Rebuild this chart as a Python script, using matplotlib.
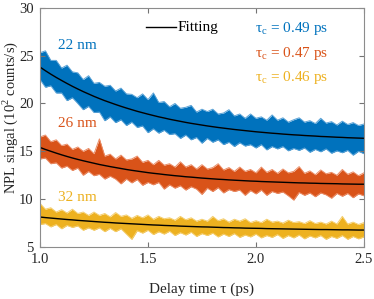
import numpy as np
import matplotlib
matplotlib.use("Agg")
import matplotlib.pyplot as plt

plt.rcParams["font.family"] = ["Liberation Serif", "DejaVu Serif"]
plt.rcParams["mathtext.fontset"] = "custom"
plt.rcParams["mathtext.rm"] = "Liberation Serif"

# delay time grid (ps), step 0.025
tau = np.linspace(1.0, 2.5, 61)

# 22 nm
fit_22 = [23.80, 23.42, 23.06, 22.72, 22.40, 22.09, 21.79, 21.51, 21.24, 20.99, 20.74,
          20.51, 20.29, 20.09, 19.89, 19.70, 19.52, 19.35, 19.18, 19.03, 18.88,
          18.74, 18.60, 18.48, 18.35, 18.24, 18.13, 18.02, 17.92, 17.83, 17.74,
          17.65, 17.57, 17.49, 17.42, 17.35, 17.28, 17.22, 17.16, 17.10, 17.04,
          16.99, 16.94, 16.89, 16.85, 16.80, 16.76, 16.72, 16.69, 16.65, 16.62,
          16.59, 16.55, 16.53, 16.50, 16.47, 16.45, 16.42, 16.40, 16.38, 16.36]
hi_22 = [25.3, 25.5, 24.5, 24.5, 23.7, 24.0, 23.3, 23.2, 22.5, 22.9, 22.1,
         22.2, 21.8, 21.9, 21.3, 21.6, 21.0, 20.95, 20.6, 21.0, 20.4,
         21.1, 20.1, 20.2, 19.65, 20.0, 19.5, 19.6, 19.8, 19.1, 19.4,
         19.15, 19.4, 18.9, 19.0, 19.35, 18.7, 18.9, 18.45, 18.9, 18.45,
         18.6, 18.25, 18.8, 18.25, 18.5, 18.05, 18.3, 18.5, 18.05, 18.2,
         17.9, 18.45, 17.95, 18.1, 17.75, 18.15, 17.8, 18.0, 17.7, 17.85]
lo_22 = [22.5, 21.7, 21.85, 21.1, 21.1, 20.3, 20.6, 20.0, 19.35, 19.7, 19.05,
         19.1, 18.2, 18.6, 18.0, 18.3, 17.7, 18.05, 17.5, 17.65, 16.95,
         17.35, 16.9, 17.2, 16.75, 16.85, 16.35, 16.7, 16.2, 16.45, 15.85,
         16.35, 15.95, 16.2, 15.7, 15.95, 15.5, 15.9, 15.55, 15.7, 15.35,
         15.7, 15.15, 15.5, 15.25, 15.5, 15.05, 15.3, 15.1, 15.35, 14.9,
         15.2, 14.95, 15.25, 14.8, 15.05, 14.85, 15.1, 14.6, 15.0, 14.75]

# 26 nm
fit_26 = [15.40, 15.19, 15.00, 14.81, 14.63, 14.46, 14.30, 14.15, 14.01, 13.88, 13.75,
          13.62, 13.51, 13.40, 13.30, 13.20, 13.10, 13.01, 12.93, 12.85, 12.77,
          12.70, 12.64, 12.57, 12.51, 12.45, 12.40, 12.34, 12.30, 12.25, 12.20,
          12.16, 12.12, 12.08, 12.05, 12.01, 11.98, 11.95, 11.92, 11.89, 11.87,
          11.84, 11.82, 11.80, 11.78, 11.76, 11.74, 11.72, 11.70, 11.69, 11.67,
          11.66, 11.64, 11.63, 11.62, 11.61, 11.59, 11.58, 11.57, 11.56, 11.56]
hi_26 = [16.5, 16.7, 16.0, 16.2, 15.6, 15.75, 15.2, 15.45, 15.0, 15.3, 14.75,
         16.3, 14.5, 14.7, 14.2, 14.6, 14.1, 14.2, 14.5, 13.85, 14.05,
         13.6, 14.05, 13.55, 13.7, 13.35, 13.9, 13.35, 13.6, 13.15, 13.6,
         13.15, 13.3, 13.7, 13.05, 13.3, 12.9, 13.35, 12.9, 13.1, 12.75,
         13.35, 12.8, 13.1, 12.7, 13.15, 12.75, 12.9, 13.4, 12.7, 12.95,
         12.55, 13.05, 12.65, 12.8, 12.5, 13.1, 12.6, 12.85, 12.45, 12.75]
lo_26 = [14.2, 14.3, 13.7, 13.8, 13.25, 13.45, 13.0, 13.25, 12.5, 12.9, 12.45,
         12.6, 12.1, 12.4, 12.1, 11.6, 12.1, 11.7, 12.05, 11.45, 11.75,
         11.5, 11.75, 11.05, 11.5, 11.15, 11.4, 10.95, 11.3, 11.05, 10.5,
         11.15, 10.8, 11.2, 10.65, 11.0, 10.8, 10.95, 10.4, 10.9, 10.55,
         10.95, 10.4, 10.8, 10.6, 10.75, 10.35, 9.9, 10.7, 10.4, 10.65,
         10.25, 10.65, 10.45, 10.1, 10.6, 10.3, 10.6, 10.15, 10.55, 10.35]

# 32 nm
fit_32 = [8.13, 8.07, 8.02, 7.97, 7.92, 7.87, 7.83, 7.78, 7.74, 7.70, 7.66,
          7.62, 7.58, 7.55, 7.51, 7.48, 7.45, 7.42, 7.39, 7.36, 7.33,
          7.30, 7.28, 7.25, 7.23, 7.21, 7.18, 7.16, 7.14, 7.12, 7.10,
          7.09, 7.07, 7.05, 7.03, 7.02, 7.00, 6.99, 6.97, 6.96, 6.95,
          6.94, 6.92, 6.91, 6.90, 6.89, 6.88, 6.87, 6.86, 6.85, 6.84,
          6.83, 6.82, 6.82, 6.81, 6.80, 6.79, 6.79, 6.78, 6.77, 6.77]
hi_32 = [9.55, 8.95, 9.1, 8.65, 8.9, 8.55, 8.95, 8.5, 8.65, 8.3, 8.65,
         8.3, 8.5, 8.15, 8.6, 8.2, 8.35, 8.0, 8.3, 8.05, 8.35,
         7.9, 8.2, 7.95, 8.05, 7.8, 8.2, 7.85, 8.05, 7.7, 7.9,
         7.7, 8.2, 7.75, 7.95, 7.6, 7.9, 7.7, 7.95, 7.55, 7.75,
         7.55, 7.9, 7.6, 7.7, 7.5, 7.8, 7.55, 7.65, 7.45, 7.75,
         7.45, 7.6, 7.4, 7.7, 7.4, 8.2, 7.4, 7.6, 7.35, 7.55]
lo_32 = [7.35, 7.45, 7.1, 7.35, 6.9, 7.25, 7.05, 7.2, 6.75, 7.0, 6.75,
         7.0, 6.6, 6.95, 6.6, 6.9, 6.35, 5.8, 6.7, 6.45, 6.75,
         6.3, 6.6, 6.35, 6.65, 6.2, 6.5, 6.25, 6.55, 6.1, 6.4,
         6.2, 6.45, 6.05, 6.35, 6.1, 6.4, 6.0, 6.25, 6.05, 6.35,
         5.95, 6.2, 6.0, 6.3, 5.9, 6.2, 5.95, 6.25, 5.85, 6.15,
         5.95, 6.2, 5.8, 6.1, 5.9, 6.2, 5.8, 6.1, 5.85, 6.05]

sizes = ["22 nm", "26 nm", "32 nm"]
tau_c = ["0.49", "0.47", "0.46"]
colors = ["#0072BD", "#D95319", "#EDB120"]
light = ["#5AA2D6", "#EA8C66", "#F4CE6E"]

fig = plt.figure(figsize=(3.74, 2.99), dpi=100)
ax = fig.add_axes([0.107, 0.174, 0.866, 0.8])

bands = [(hi_22, lo_22, fit_22), (hi_26, lo_26, fit_26), (hi_32, lo_32, fit_32)]
for (hi, lo, fit), c, lc in zip(bands, colors, light):
    ax.fill_between(tau, lo, hi, color=c, lw=0)
    ax.plot(tau, hi, color=lc, lw=0.7)
    ax.plot(tau, lo, color=lc, lw=0.7)
for (hi, lo, fit), c in zip(bands, colors):
    ax.plot(tau, fit, color="k", lw=1.0)

ax.plot([1.49, 1.63], [27.95, 27.95], color="k", lw=1.0)
ax.text(1.635, 27.95, "Fitting", fontsize=11, va="center", ha="left")

label_y = [26.1, 17.95, 10.15]
tc_y = [27.85, 25.2, 22.7]
for s, t, c, ly, ty in zip(sizes, tau_c, colors, label_y, tc_y):
    ax.text(1.083, ly, s, color=c, fontsize=11, va="center", ha="left")
    ax.text(1.995, ty, r"$\mathregular{τ_c}$ = " + t + " ps", color=c,
            fontsize=11, va="center", ha="left")

ax.set_xlim(1.0, 2.5)
ax.set_ylim(5, 30)
ax.set_xticks([1.0, 1.5, 2.0, 2.5])
ax.set_xticklabels(["1.0", "1.5", "2.0", "2.5"])
ax.set_yticks([5, 10, 15, 20, 25, 30])
ax.tick_params(direction="in", top=True, right=True, length=3.5, width=0.8,
               color="0.45", labelsize=10.5, pad=4.5, labelcolor="#262626")
for sp in ax.spines.values():
    sp.set_color("0.55")
    sp.set_linewidth(0.8)

ax.set_xlabel("Delay time τ (ps)", fontsize=11, color="#262626", labelpad=12)
ax.set_ylabel(r"NPL singal (10$^{\mathregular{2}}$ counts/s)", fontsize=10.5,
              color="#262626")
ax.yaxis.set_label_coords(-0.063, 0.54)

fig.savefig("out.png", dpi=100)
